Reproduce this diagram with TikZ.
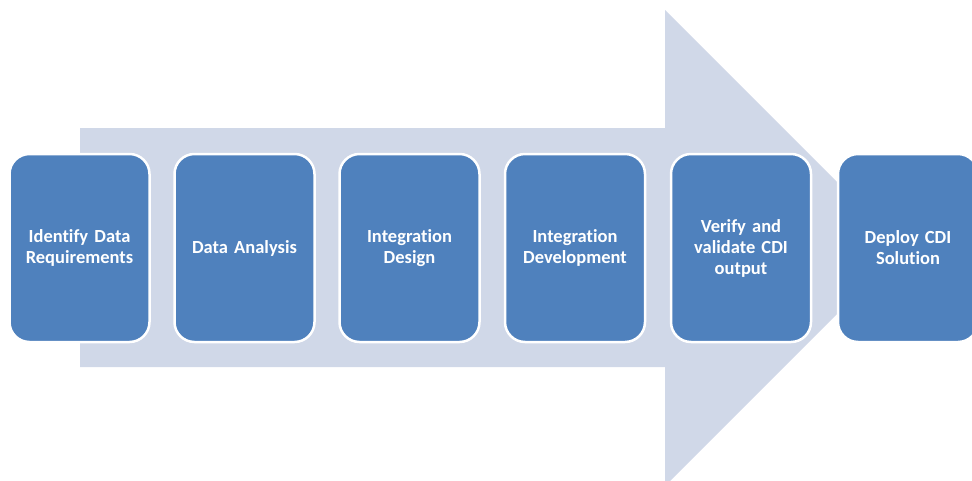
\documentclass[tikz,border=0pt]{standalone}
\usepackage{fontspec}
\setmainfont{Carlito}[Ligatures=NoCommon]
\usetikzlibrary{positioning}

\definecolor{stepblue}{HTML}{4F81BD}
\definecolor{arrowgray}{HTML}{D0D8E8}

\tikzset{
  stepbox/.style={rectangle, rounded corners=20pt, minimum width=140pt, minimum height=188pt,
    text width=132pt, align=center, fill=stepblue, draw=white, line width=2.5pt,
    text=white, font=\fontsize{18.5pt}{21pt}\selectfont\bfseries},
}

\begin{document}
\begin{tikzpicture}[x=1pt, y=-1pt]
\useasboundingbox (0,0) rectangle (972,480);
\clip (0,0) rectangle (972,480);
% big arrow behind the steps
\fill [arrowgray] (80,128) -- (665,128) -- (665,10) -- (903,248) -- (665,486) -- (665,367) -- (80,367) -- cycle;
% steps
\node (identify) [stepbox] at (79.5, 248) {Identify Data\\Requirements};
\node (analysis) [stepbox] at (244.5, 248) {Data Analysis};
\node (design) [stepbox] at (409.5, 248) {Integration\\Design};
\node (develop) [stepbox] at (575, 248) {Integration\\Development};
\node (verify) [stepbox] at (741, 248) {Verify and\\validate CDI\\output};
\node (deploy) [stepbox] at (908, 248) {Deploy CDI\\Solution};
\end{tikzpicture}
\end{document}
